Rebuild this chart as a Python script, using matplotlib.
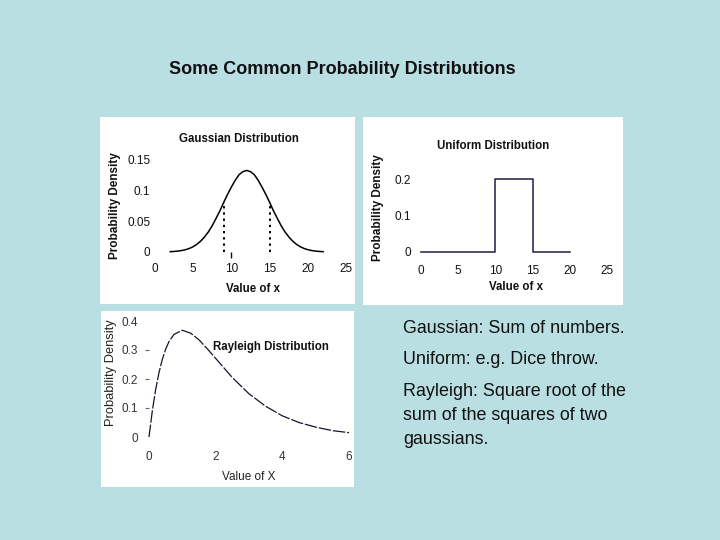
import matplotlib
matplotlib.use('Agg')
import matplotlib.pyplot as plt
from matplotlib.patches import Rectangle

plt.rcParams['font.family'] = ['Liberation Sans', 'DejaVu Sans']

W, H = 720, 540
BG = '#b9dfe3'
INK = '#111111'
NAVY = '#1c1c48'

# Gaussian panel (mean 12, sd 3)
gauss_x = [2, 2.5, 3, 3.5, 4, 4.5, 5, 5.5, 6, 6.5, 7, 7.5, 8, 8.5, 9, 9.5,
           10, 10.5, 11, 11.5, 12, 12.5, 13, 13.5, 14, 14.5, 15, 15.5, 16,
           16.5, 17, 17.5, 18, 18.5, 19, 19.5, 20, 20.5, 21, 21.5, 22]
gauss_y = [0.0005, 0.0009, 0.0015, 0.0024, 0.0038, 0.0058, 0.0087, 0.0127,
           0.018, 0.0248, 0.033, 0.0432, 0.055, 0.0673, 0.081, 0.094, 0.106,
           0.117, 0.126, 0.131, 0.133, 0.131, 0.126, 0.117, 0.106, 0.094,
           0.081, 0.0673, 0.055, 0.0432, 0.033, 0.0248, 0.018, 0.0127, 0.0087,
           0.0058, 0.0038, 0.0024, 0.0015, 0.0009, 0.0005]
gauss_sigma_x = [9, 15]
gauss_sigma_y = [0.081, 0.081]
gauss_xticks = [0, 5, 10, 15, 20, 25]
gauss_yticks = [0, 0.05, 0.1, 0.15]
gauss_yticklabels = ['0', '0.05', '0.1', '0.15']

# Uniform panel
unif_x = [0, 10, 10, 15, 15, 20]
unif_y = [0, 0, 0.2, 0.2, 0, 0]
unif_xticks = [0, 5, 10, 15, 20, 25]
unif_yticks = [0, 0.1, 0.2]
unif_yticklabels = ['0', '0.1', '0.2']

# "Rayleigh" panel
ray_x = [0, 0.1, 0.2, 0.3, 0.4, 0.5, 0.6, 0.75, 1.0, 1.25, 1.5, 1.75, 2.0,
         2.5, 3.0, 3.5, 4.0, 4.5, 5.0, 5.5, 6.0]
ray_y = [0, 0.0905, 0.164, 0.222, 0.268, 0.303, 0.329, 0.354, 0.368, 0.358,
         0.335, 0.304, 0.271, 0.205, 0.149, 0.106, 0.073, 0.050, 0.034,
         0.022, 0.015]
ray_xticks = [0, 2, 4, 6]
ray_yticks = [0, 0.1, 0.2, 0.3, 0.4]
ray_yticklabels = ['0', '0.1', '0.2', '0.3', '0.4']

notes = ['Gaussian: Sum of numbers.',
         'Uniform: e.g. Dice throw.',
         'Rayleigh: Square root of the',
         'sum of the squares of two',
         'gaussians.']


def box(x0, y0, x1, y1):
    """pixel box (top-left origin) -> figure fraction rect"""
    return [x0 / W, 1 - y1 / H, (x1 - x0) / W, (y1 - y0) / H]


def ftext(x, y, s, **kw):
    kw.setdefault('color', INK)
    return fig.text(x / W, 1 - y / H, s, **kw)


def panel(x0, y0, x1, y1):
    fig.patches.append(Rectangle((x0 / W, 1 - y1 / H), (x1 - x0) / W,
                                 (y1 - y0) / H, transform=fig.transFigure,
                                 facecolor='white', edgecolor='none',
                                 zorder=-5))


def bare_axes(rect, xlim, ylim):
    ax = fig.add_axes(rect)
    ax.set_facecolor('none')
    ax.set_zorder(2)
    for s in ax.spines.values():
        s.set_visible(False)
    ax.set_xlim(*xlim)
    ax.set_ylim(*ylim)
    # keep minor marks that sit on labelled positions
    ax.xaxis.remove_overlapping_locs = False
    ax.yaxis.remove_overlapping_locs = False
    return ax


fig = plt.figure(figsize=(7.2, 5.4), dpi=100, facecolor=BG)

ftext(342, 69, 'Some Common Probability Distributions', fontsize=13,
      fontweight='bold', ha='center', va='center')

# ── Gaussian ──
panel(100, 117, 355, 304)
ax = bare_axes(box(155, 160, 346, 252), (0, 25), (0, 0.15))
ax.plot(gauss_x, gauss_y, color='black', lw=1.1, clip_on=False)
ax.vlines(gauss_sigma_x, 0, gauss_sigma_y, colors='black', lw=1.4,
          linestyles=(0, (1.2, 2.0)))
ax.set_xticks(gauss_xticks)
ax.set_yticks(gauss_yticks)
ax.set_yticklabels(gauss_yticklabels)
ax.set_xticks([10], minor=True)
ax.tick_params(which='major', length=0, labelsize=8.5, colors=INK)
ax.tick_params(axis='x', which='major', pad=8)
ax.tick_params(axis='y', which='major', pad=3.5)
ax.tick_params(axis='x', which='minor', length=4, width=1, direction='out',
               color=INK)
ftext(239, 139, 'Gaussian Distribution', fontsize=8.3, fontweight='bold',
      ha='center', va='center')
ftext(253, 289, 'Value of x', fontsize=8.3, fontweight='bold',
      ha='center', va='center')
ftext(115, 206, 'Probability Density', fontsize=8.5, fontweight='bold',
      rotation=90, ha='center', va='center')

# ── Uniform ──
panel(363, 117, 623, 305)
ax = bare_axes(box(421, 179, 607, 252), (0, 25), (0, 0.2))
ax.plot(unif_x, unif_y, color=NAVY, lw=1.1, clip_on=False)
ax.set_xticks(unif_xticks)
ax.set_yticks(unif_yticks)
ax.set_yticklabels(unif_yticklabels)
ax.tick_params(length=0, labelsize=8.5, colors=INK)
ax.tick_params(axis='x', pad=9)
ax.tick_params(axis='y', pad=7)
ftext(493, 146, 'Uniform Distribution', fontsize=8.3, fontweight='bold',
      ha='center', va='center')
ftext(516, 287, 'Value of x', fontsize=8.3, fontweight='bold',
      ha='center', va='center')
ftext(378, 208, 'Probability Density', fontsize=8.5, fontweight='bold',
      rotation=90, ha='center', va='center')

# ── Rayleigh ──
panel(101, 311, 354, 487)
ax = bare_axes(box(149, 321, 349, 437), (0, 6), (0, 0.4))
ax.plot(ray_x, ray_y, color='#14142e', lw=0.9, clip_on=False,
        linestyle=(0, (10, 1.5)))
ax.set_xticks(ray_xticks)
ax.set_yticks(ray_yticks)
ax.set_yticklabels(ray_yticklabels)
ax.set_yticks([0.1, 0.2, 0.3], minor=True)
ax.tick_params(which='major', length=0, labelsize=8.5, colors='#333333')
ax.tick_params(axis='x', which='major', pad=10)
ax.tick_params(axis='y', which='major', pad=8)
ax.tick_params(axis='y', which='minor', length=3, width=0.8, color='#666666',
               pad=2)
ftext(271, 347, 'Rayleigh Distribution', fontsize=8.3, fontweight='bold',
      ha='center', va='center')
ftext(249, 477, 'Value of X', fontsize=8.5, ha='center', va='center',
      color='#222222')
ftext(111, 373, 'Probability Density', fontsize=9.3, rotation=90,
      ha='center', va='center', color='#222222')

# ── notes ──
note_y = [333, 364, 396, 420, 444]
for s, y in zip(notes, note_y):
    ftext(403, y, s, fontsize=12.9, ha='left', va='baseline')

fig.savefig('out.png', dpi=100, facecolor=BG)
